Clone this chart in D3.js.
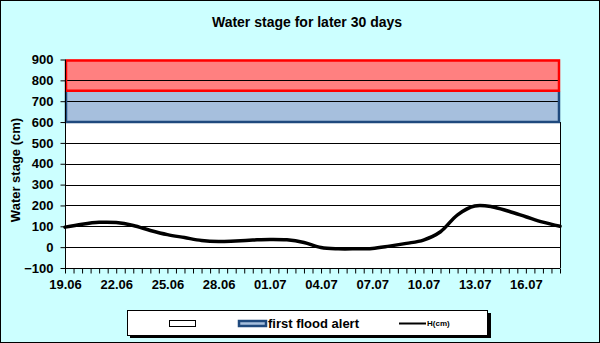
<!DOCTYPE html>
<html><head><meta charset="utf-8">
<script src="https://cdn.jsdelivr.net/npm/d3@7"></script>
<style>body{margin:0;background:#fff}svg{display:block;font-family:Arial,"Liberation Sans",sans-serif}</style>
</head><body>
<svg id="c" width="600" height="343"></svg>
<script>
const dates = ["19.06","20.06","21.06","22.06","23.06","24.06","25.06","26.06","27.06","28.06","29.06","30.06","01.07","02.07","03.07","04.07","05.07","06.07","07.07","08.07","09.07","10.07","11.07","12.07","13.07","14.07","15.07","16.07","17.07","18.07"];
const stage = [96,110,119,118,104,80,60,46,32,27,30,34,37,35,22,-2,-8,-8,-6,5,18,34,74,155,197,194,172,146,120,100];
const yTicks = [-100,0,100,200,300,400,500,600,700,800,900];
const alertBands = [
  {name:"first flood alert", from:600, to:750, fill:"#a6bfdd", stroke:"#1f497d"},
  {name:"second flood alert", from:750, to:900, fill:"#ff8080", stroke:"#ff0000"}
];
const labelEvery = 3;

const svg = d3.select("#c");
svg.append("rect").attr("x",0.5).attr("y",0.5).attr("width",599).attr("height",342)
  .attr("fill","#ccffff").attr("stroke","#000");

const x = d3.scaleLinear().domain([0, dates.length-1]).range([65, 560]);
const y = d3.scaleLinear().domain([-100, 900]).range([268, 59.5]);

const g = svg.append("g");
g.append("rect").attr("x",x.range()[0]).attr("y",y(900)).attr("width",x.range()[1]-x.range()[0])
  .attr("height",y(-100)-y(900)).attr("fill","#fff");

// bands
alertBands.forEach(b=>{
  g.append("rect").attr("x",x(0)).attr("y",y(b.to)).attr("width",x(dates.length-1)-x(0))
   .attr("height",y(b.from)-y(b.to)).attr("fill",b.fill);
});
// gridlines
g.selectAll("line.grid").data(yTicks).join("line").attr("class","grid")
  .attr("x1",x(0)).attr("x2",x(dates.length-1)).attr("y1",d=>Math.round(y(d))+0.5).attr("y2",d=>Math.round(y(d))+0.5)
  .attr("stroke","#000").attr("stroke-width",1);
// band outlines
alertBands.forEach(b=>{
  const x0=x(0)+1, x1=x(dates.length-1)-1;
  const yt=y(b.to)+1, yb=y(b.from);
  g.append("path").attr("d",`M${x0},${yt}L${x0},${yb}L${x1},${yb}L${x1},${yt}`+(b.to===900?`L${x0},${yt}`:""))
   .attr("fill","none").attr("stroke",b.stroke).attr("stroke-width",2.5);
});
// plot right border
g.append("line").attr("x1",x(dates.length-1)+0.5).attr("x2",x(dates.length-1)+0.5).attr("y1",y(600)).attr("y2",y(-100))
  .attr("stroke","#000");

// axes
const yAxis = d3.axisLeft(y).tickValues(yTicks).tickSize(5).tickPadding(7).tickFormat(d3.format("d"));
const ya = svg.append("g").attr("transform",`translate(${x(0)+0.5},0)`).call(yAxis);
const ticksX = d3.range(0, dates.length-1+0.001, 0.5);
const xAxis = d3.axisBottom(x).tickValues(ticksX).tickSize(5).tickPadding(6)
  .tickFormat(d=> (Number.isInteger(d) && d%labelEvery===0) ? dates[d] : "");
const xa = svg.append("g").attr("transform",`translate(0,${Math.round(y(-100))+0.5})`).call(xAxis);
[ya,xa].forEach(a=>{
  a.select(".domain").attr("stroke","#000");
  a.selectAll(".tick line").attr("stroke","#000");
  a.selectAll("text").attr("fill","#000").style("font-size","13px").style("font-weight","bold").style("font-family","Arial,'Liberation Sans',sans-serif");
});
xa.select(".domain").attr("d",`M${x(0)},0H${x(dates.length-1)}`);
ya.select(".domain").attr("d",`M0,${y(900)}V${y(-100)}`);

// line
const line = d3.line().x((d,i)=>x(i)).y(d=>y(d)).curve(d3.curveCatmullRom.alpha(0.5));
svg.append("path").datum(stage).attr("d",line).attr("fill","none").attr("stroke","#000")
  .attr("stroke-width",3.5).attr("stroke-linejoin","round").attr("stroke-linecap","round");

// title
svg.append("text").attr("x",307).attr("y",27).attr("text-anchor","middle")
  .style("font-size","14px").style("font-weight","bold").text("Water stage for later 30 days");
svg.append("text").attr("transform","translate(20,170) rotate(-90)").attr("text-anchor","middle")
  .style("font-size","13px").style("font-weight","bold").text("Water stage (cm)");

// legend
const lg = svg.append("g");
lg.append("rect").attr("x",130).attr("y",313).attr("width",361).attr("height",25).attr("fill","#000");
lg.append("rect").attr("x",127.5).attr("y",310.5).attr("width",360).attr("height",25).attr("fill","#fff").attr("stroke","#000");
lg.append("rect").attr("x",169.5).attr("y",320.5).attr("width",26).attr("height",6).attr("fill","#fff").attr("stroke","#000");
lg.append("rect").attr("x",239).attr("y",321).attr("width",27).attr("height",5).attr("fill",alertBands[0].fill).attr("stroke",alertBands[0].stroke).attr("stroke-width",2.5);
lg.append("text").attr("x",268).attr("y",328).style("font-size","13px").style("font-weight","bold").text(alertBands[0].name);
lg.append("line").attr("x1",399).attr("x2",426).attr("y1",323.5).attr("y2",323.5).attr("stroke","#000").attr("stroke-width",2);
lg.append("text").attr("x",427).attr("y",326).style("font-size","8px").style("font-weight","bold").text("H(cm)");
</script>
</body></html>
